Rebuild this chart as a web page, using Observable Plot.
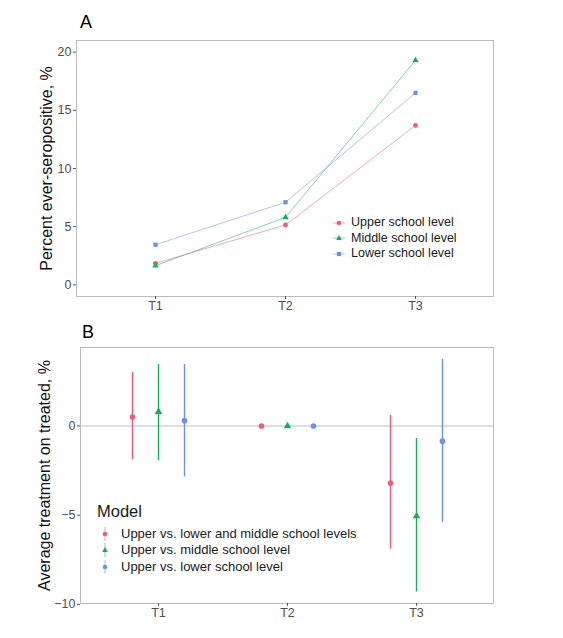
<!DOCTYPE html>
<html>
<head>
<meta charset="utf-8">
<script src="https://cdn.jsdelivr.net/npm/d3@7"></script>
<script src="https://cdn.jsdelivr.net/npm/@observablehq/plot@0.6"></script>
<style>
  body { margin: 0; background: #fff; font-family: "Liberation Sans", Arial, sans-serif; }
  #wrap { position: relative; width: 563px; height: 638px; }
  .panel { position: absolute; left: 0; }
  .tag { position: absolute; font-size: 18px; color: #000; }
  .leg { position: absolute; font-size: 12.5px; color: #1a1a1a; line-height: 15.5px; }
  .leg div { display: flex; align-items: center; white-space: nowrap; }
  .leg svg { margin-right: 6px; }
  #legB { font-size: 13px; line-height: 16.5px; }
  .legtitle { font-size: 16.5px; margin-bottom: 6px; }
</style>
</head>
<body>
<div id="wrap">
  <div class="panel" id="pa" style="top:0"></div>
  <div class="panel" id="pb" style="top:318px"></div>
  <div class="tag" style="left:80px; top:12px">A</div>
  <div class="tag" style="left:82px; top:322px">B</div>
  <div class="leg" id="legA" style="left:333px; top:215px"></div>
  <div class="leg" id="legB" style="left:97px; top:503px"></div>
</div>
<script>
// ---------- data ----------
const times = ["T1", "T2", "T3"];
const levelNames = ["Upper school level", "Middle school level", "Lower school level"];
const upperSero = [1.85, 5.15, 13.7];
const middleSero = [1.65, 5.8, 19.3];
const lowerSero = [3.45, 7.1, 16.5];

const modelNames = [
  "Upper vs. lower and middle school levels",
  "Upper vs. middle school level",
  "Upper vs. lower school level"
];
const attAll = [0.5, 0, -3.2];
const attAllLo = [-1.9, null, -6.9];
const attAllHi = [3.0, null, 0.6];
const attMid = [0.8, 0, -5.05];
const attMidLo = [-1.95, null, -9.3];
const attMidHi = [3.45, null, -0.7];
const attLow = [0.3, 0, -0.85];
const attLowLo = [-2.85, null, -5.4];
const attLowHi = [3.45, null, 3.75];

const yTicksA = [0, 5, 10, 15, 20];
const yTicksB = [-10, -5, 0];

// ---------- styles ----------
const colors = ["#EE5B78", "#17AD5E", "#6F90E4"];
const symbols = ["circle", "triangle", "square"];
const dodge = [-26, 0, 26];

// ---------- panel A ----------
const seroSeries = [upperSero, middleSero, lowerSero];
const dataA = [];
seroSeries.forEach((vals, i) => vals.forEach((v, j) => dataA.push({level: levelNames[i], time: times[j], value: v})));

const plotA = Plot.plot({
  width: 563, height: 318,
  marginLeft: 76, marginRight: 70, marginTop: 40, marginBottom: 22,
  style: {fontFamily: "Liberation Sans, Arial, sans-serif", background: "#fff"},
  x: {type: "point", domain: times, padding: 0.6, label: null},
  y: {domain: [-1, 21], ticks: yTicksA, label: null},
  color: {domain: levelNames, range: colors},
  symbol: {domain: levelNames, range: symbols},
  marks: [
    Plot.frame({stroke: "#bbbbbb", strokeWidth: 1}),
    Plot.axisX({ticks: times, tickSize: 3, tickPadding: 2, stroke: "#555", fontSize: 12.5, color: "#4d4d4d"}),
    Plot.axisY({ticks: yTicksA, tickSize: 3, tickPadding: 2, stroke: "#555", fontSize: 12.5, color: "#4d4d4d", label: null}),
    Plot.line(dataA, {x: "time", y: "value", z: "level", stroke: "level", strokeWidth: 0.9, strokeOpacity: 0.6}),
    Plot.dot(dataA, {x: "time", y: "value", fill: "level", symbol: "level", r: 2.4, stroke: "none"}),
    Plot.text(["Percent ever-seropositive, %"], {frameAnchor: "left", dx: -30, rotate: -90, fontSize: 16, fill: "#111", textAnchor: "middle"})
  ]
});
document.getElementById("pa").appendChild(plotA);

// ---------- panel B ----------
const estSeries = [attAll, attMid, attLow];
const loSeries = [attAllLo, attMidLo, attLowLo];
const hiSeries = [attAllHi, attMidHi, attLowHi];
const dataB = [];
estSeries.forEach((vals, i) => vals.forEach((v, j) => dataB.push({
  model: modelNames[i], idx: i, time: times[j], est: v, lo: loSeries[i][j], hi: hiSeries[i][j]
})));

const marksB = [
  Plot.frame({stroke: "#bbbbbb", strokeWidth: 1}),
  Plot.ruleY([0], {stroke: "#bdbdbd", strokeWidth: 1}),
  Plot.axisX({ticks: times, tickSize: 3, tickPadding: 2, stroke: "#555", fontSize: 12.5, color: "#4d4d4d"}),
  Plot.axisY({ticks: yTicksB, tickSize: 3, tickPadding: 2, stroke: "#555", fontSize: 12.5, color: "#4d4d4d", label: null}),
  Plot.text(["Average treatment on treated, %"], {frameAnchor: "left", dx: -36, rotate: -90, fontSize: 16, fill: "#111", textAnchor: "middle"})
];
const pointSymbols = ["circle", "triangle", "circle"];
modelNames.forEach((m, i) => {
  const sub = dataB.filter(d => d.idx === i);
  marksB.push(Plot.ruleX(sub.filter(d => d.lo != null), {x: "time", y1: "lo", y2: "hi", stroke: colors[i], strokeWidth: 1.4, dx: dodge[i]}));
  marksB.push(Plot.dot(sub, {x: "time", y: "est", fill: colors[i], symbol: () => pointSymbols[i], r: 2.8, stroke: "none", dx: dodge[i]}));
});

const plotB = Plot.plot({
  width: 563, height: 320,
  marginLeft: 80, marginRight: 70, marginTop: 29, marginBottom: 35,
  style: {fontFamily: "Liberation Sans, Arial, sans-serif", background: "#fff"},
  x: {type: "point", domain: times, padding: 0.6, label: null},
  y: {domain: [-9.95, 4.4], label: null},
  symbol: {domain: ["circle", "triangle"], range: ["circle", "triangle"]},
  marks: marksB
});
document.getElementById("pb").appendChild(plotB);

// ---------- legends ----------
function shapeFor(kind, c, size) {
  const h = size / 2;
  if (kind === "circle") return `<circle cx="${h}" cy="${h}" r="2.3" fill="${c}"/>`;
  if (kind === "triangle") return `<path d="M${h},${h-3} L${h+2.8},${h+2} L${h-2.8},${h+2} Z" fill="${c}"/>`;
  return `<rect x="${h-2.1}" y="${h-2.1}" width="4.2" height="4.2" fill="${c}"/>`;
}
function legendA() {
  const el = document.getElementById("legA");
  levelNames.forEach((n, i) => {
    const hl = `<line x1="0" x2="12" y1="6" y2="6" stroke="${colors[i]}" stroke-width="1" opacity="0.5"/>`;
    el.insertAdjacentHTML("beforeend", `<div><svg width="12" height="12">${hl}${shapeFor(symbols[i], colors[i], 12)}</svg>${n}</div>`);
  });
}
function legendB() {
  const el = document.getElementById("legB");
  el.insertAdjacentHTML("beforeend", `<div class="legtitle">Model</div>`);
  modelNames.forEach((n, i) => {
    const ln = `<line x1="7" x2="7" y1="0" y2="14" stroke="${colors[i]}" stroke-width="1.2" opacity="0.45"/>`;
    el.insertAdjacentHTML("beforeend", `<div style="margin-left:1px"><svg width="14" height="14" style="margin-right:9px">${ln}${shapeFor(pointSymbols[i], colors[i], 14)}</svg>${n}</div>`);
  });
}
legendA();
legendB();
</script>
</body>
</html>
